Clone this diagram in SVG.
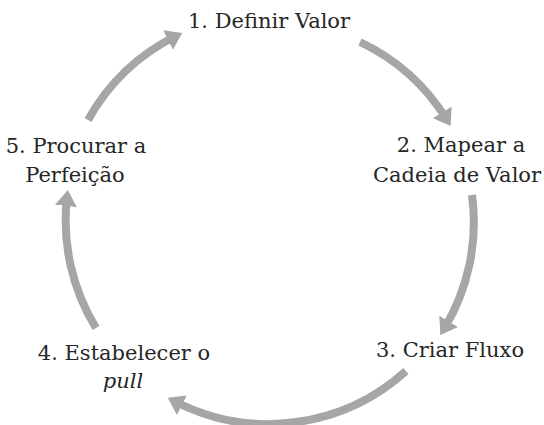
<svg xmlns="http://www.w3.org/2000/svg" width="544" height="425" viewBox="0 0 544 425">
<style>
.lbl{font-family:'DejaVu Serif',serif;font-size:21px;fill:#262626;text-anchor:middle}
.arc{fill:none;stroke:#a6a6a6;stroke-width:8;marker-end:url(#head)}
</style>
<defs>
<marker id="head" viewBox="0 -11 16 22" markerWidth="16" markerHeight="22" refX="9" refY="0" markerUnits="userSpaceOnUse" orient="auto">
<path d="M0,-11 L16,0 L0,11 z" fill="#a6a6a6"/>
</marker>
</defs>
<rect width="544" height="425" fill="#ffffff"/>
<g id="connectors">
<path class="arc" d="M360,42 A205,205 0 0 1 447,120"/>
<path class="arc" d="M472,195 A205,205 0 0 1 444,329"/>
<path class="arc" d="M406,371 A205,205 0 0 1 174,401"/>
<path class="arc" d="M96,328 A205,205 0 0 1 67,197"/>
<path class="arc" d="M88,120 A205,205 0 0 1 176,36"/>
</g>
<g id="n1"><text class="lbl" x="269" y="28">1. Definir Valor</text></g>
<g id="n2"><text class="lbl" x="461" y="152">2. Mapear a</text><text class="lbl" x="457" y="182">Cadeia de Valor</text></g>
<g id="n3"><text class="lbl" x="450" y="357">3. Criar Fluxo</text></g>
<g id="n4"><text class="lbl" x="124" y="360">4. Estabelecer o</text><text class="lbl" x="123" y="388" font-style="italic">pull</text></g>
<g id="n5"><text class="lbl" x="76" y="153">5. Procurar a</text><text class="lbl" x="75" y="182">Perfeição</text></g>
</svg>
